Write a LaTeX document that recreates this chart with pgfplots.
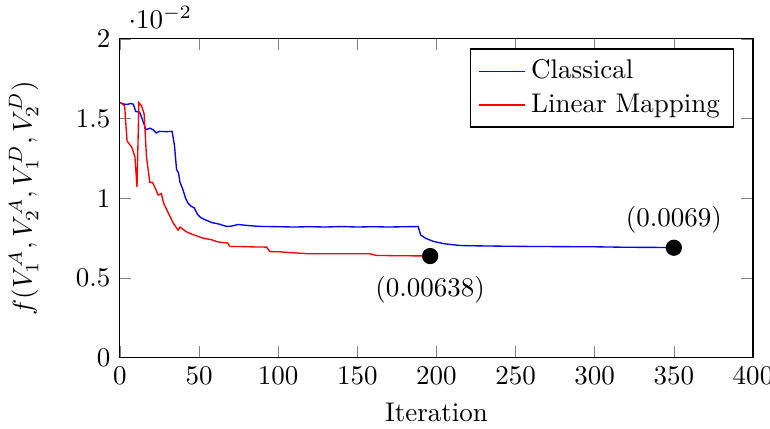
\documentclass[border=0pt]{standalone}
\usepackage{pgfplots}
\pgfplotsset{compat=1.18}

\begin{document}
\begin{tikzpicture}
\begin{axis}[
  width=8.24cm, height=4.15cm,
  scale only axis,
  xmin=0, xmax=400,
  ymin=0, ymax=0.02,
  xtick={0,50,...,400},
  ytick={0,0.005,0.01,0.015,0.02},
  xlabel={Iteration},
  ylabel={$f(V_1^A, V_2^A, V_1^D, V_2^D)$},
  ylabel shift={7pt},
  legend pos=north east,
  legend cell align=left,
  clip=false]

% ---- classical optimisation ------------------------------------------
\addplot[color=blue, line width=0.5pt] coordinates {
  (0,0.0160) (1,0.01597) (3,0.0159) (5,0.0159) (7,0.01595) (8.5,0.0159)
  (10,0.01545) (12.5,0.0154) (14,0.0150) (16.5,0.0143) (19,0.0144)
  (21,0.0143) (23,0.0141) (25,0.0142) (29,0.01418) (33,0.0142)
  (34.5,0.0133) (35.8,0.0118) (37,0.0116) (38,0.0110) (40,0.0105)
  (41.5,0.0100) (43,0.0097) (45,0.0095) (47,0.0094) (49,0.0090)
  (51,0.0088) (54,0.00865) (58,0.00848) (62,0.00840) (67,0.00825)
  (70,0.00825) (75,0.00836) (80,0.0083) (88,0.00824) (100,0.00822)
  (110,0.0082) (120,0.00822) (130,0.0082) (140,0.00823) (150,0.0082)
  (160,0.00822) (170,0.0082) (180,0.00822) (188.5,0.00823) (190,0.0077)
  (193,0.0075) (198,0.0073) (205,0.00715) (215,0.00704) (225,0.00702)
  (240,0.00700) (260,0.00698) (280,0.00697) (300,0.00696) (320,0.00693)
  (340,0.00692) (350,0.0069)};
\addlegendentry{Classical}

% ---- linear mapping --------------------------------------------------
\addplot[color=red, line width=0.5pt] coordinates {
  (0,0.0160) (1,0.01597) (3,0.0158) (4.5,0.0136) (6,0.0134) (7.5,0.0132)
  (9.5,0.0126) (10.8,0.0107) (12,0.0160) (13.7,0.0158) (15.3,0.0153)
  (16.8,0.0126) (18.9,0.0110) (20.6,0.0110) (22.5,0.0106) (24.2,0.0102)
  (26.2,0.0103) (27.6,0.0097) (30.5,0.0091) (33.7,0.00845) (36.8,0.0080)
  (38,0.0082) (42,0.0079) (44.3,0.0078) (47,0.0077) (52.6,0.0075)
  (58,0.0074) (61,0.0073) (63,0.00725) (68,0.0072) (69.5,0.00698)
  (75,0.00698) (85,0.00695) (92.7,0.00694) (94.8,0.00666) (100,0.00665)
  (110,0.00658) (120,0.00652) (140,0.00652) (158,0.00652) (162,0.00642)
  (175,0.0064) (190,0.00639) (196,0.00638)};
\addlegendentry{Linear Mapping}

% ---- final values ----------------------------------------------------
\addplot[black, only marks, mark=*, mark size=2.8pt, forget plot,
  nodes near coords={(0.00638)},
  nodes near coords style={anchor=north, yshift=-4pt}]
  coordinates {(196,0.00638)};
\addplot[black, only marks, mark=*, mark size=2.8pt, forget plot,
  nodes near coords={(0.0069)},
  nodes near coords style={anchor=south, yshift=2pt}]
  coordinates {(350,0.0069)};
\end{axis}
% frame the page as the reference does
\pgfresetboundingbox
\path ([shift={(-44.4pt,-26.3pt)}]current axis.south west)
  rectangle ([shift={(6.3pt,14.4pt)}]current axis.north east);
\end{tikzpicture}
\end{document}
